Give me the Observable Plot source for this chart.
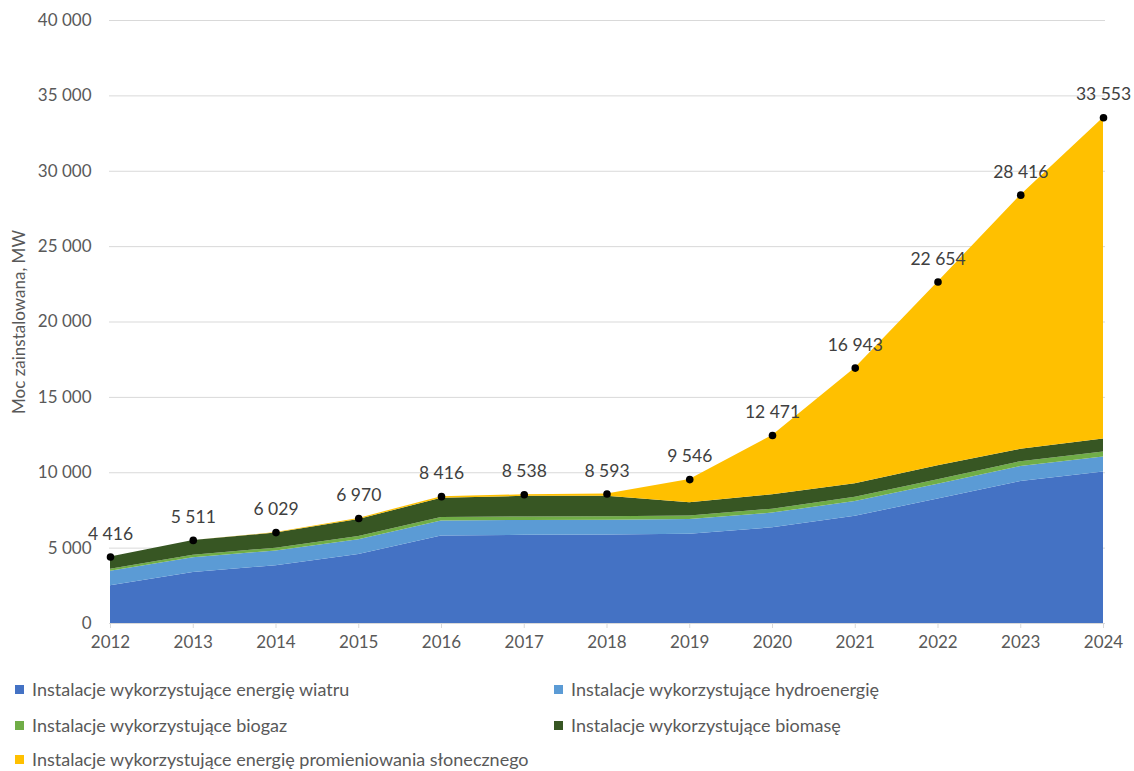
<!DOCTYPE html>
<html>
<head>
<meta charset="utf-8">
<script src="https://cdn.jsdelivr.net/npm/d3@7"></script>
<script src="https://cdn.jsdelivr.net/npm/@observablehq/plot@0.6"></script>
<style>
  html, body { margin: 0; padding: 0; background: #fff; overflow: hidden; }
  #chart { width: 1134px; }
  .legend { position: relative; height: 101px; font-family: Lato, "Open Sans", sans-serif; font-size: 18px; color: #595959; }
  .item { position: absolute; display: flex; align-items: center; white-space: nowrap; line-height: 20px; }
  .sw { width: 9px; height: 9px; margin-right: 8px; display: inline-block; }
</style>
</head>
<body>
<div id="chart"></div>
<script>
const years   = [2012, 2013, 2014, 2015, 2016, 2017, 2018, 2019, 2020, 2021, 2022, 2023, 2024];
const wind    = [2497, 3390, 3834, 4582, 5807, 5849, 5864, 5917, 6347, 7116, 8256, 9420, 10050];
const hydro   = [966, 970, 977, 981, 994, 988, 981, 976, 977, 983, 988, 993, 990];
const biogas  = [131, 162, 188, 212, 233, 236, 237, 245, 258, 272, 295, 320, 340];
const biomass = [821, 987, 1008, 1122, 1281, 1362, 1365, 869, 953, 902, 926, 820, 860];
const solar   = [1, 2, 22, 73, 101, 103, 146, 1539, 3936, 7670, 12189, 16863, 21313];
const totals  = [4416, 5511, 6029, 6970, 8416, 8538, 8593, 9546, 12471, 16943, 22654, 28416, 33553];
const seriesNames = [
  "Instalacje wykorzystujące energię wiatru",
  "Instalacje wykorzystujące hydroenergię",
  "Instalacje wykorzystujące biogaz",
  "Instalacje wykorzystujące biomasę",
  "Instalacje wykorzystujące energię promieniowania słonecznego"
];
const seriesColors = ["#4472C4", "#5B9BD5", "#70AD47", "#375623", "#FFC000"];
const yTicks = [0, 5000, 10000, 15000, 20000, 25000, 30000, 35000, 40000];

const seriesValues = [wind, hydro, biogas, biomass, solar];
const rows = [];
seriesNames.forEach((name, i) => years.forEach((y, j) => rows.push({year: y, series: name, value: seriesValues[i][j]})));
const totalRows = years.map((y, j) => ({year: y, total: totals[j]}));

const loc = d3.formatLocale({decimal: ",", thousands: "\u00a0", grouping: [3], currency: ["", " zł"]});
const fmt = loc.format(",d");

const font = "Lato, 'Open Sans', sans-serif";

const plot = Plot.plot({
  width: 1134,
  height: 670,
  marginLeft: 110,
  marginRight: 31,
  marginTop: 20,
  marginBottom: 47,
  style: {fontFamily: font, fontSize: "17px", color: "#595959", background: "#fff"},
  x: {domain: [2012, 2024], label: null},
  y: {domain: [0, 40000], label: null},
  color: {domain: seriesNames, range: seriesColors},
  marks: [
    Plot.gridY(yTicks, {stroke: "#d9d9d9", strokeOpacity: 1, strokeWidth: 1, insetLeft: -1, insetRight: -2}),
    Plot.areaY(rows, Plot.stackY({order: seriesNames}, {x: "year", y: "value", fill: "series", z: "series"})),
    Plot.ruleY([0], {stroke: "#d9d9d9", strokeWidth: 1, insetLeft: -1, insetRight: -2}),
    Plot.axisX({ticks: years, tickFormat: d => String(d), stroke: "#d9d9d9", tickSize: 5, tickPadding: 7, fontSize: 17, fill: "#595959", label: null}),
    Plot.axisY({ticks: yTicks, tickFormat: fmt, tickSize: 0, tickPadding: 19, fontSize: 17, fill: "#595959",
      label: "Moc zainstalowana, MW", labelAnchor: "center", labelArrow: "none", labelOffset: 98}),
    Plot.dot(totalRows, {x: "year", y: "total", r: 3.8, fill: "#000"}),
    Plot.text(totalRows, {x: "year", y: "total", text: d => fmt(d.total), dy: -23, fill: "#404040", fontSize: 17.5})
  ]
});
document.getElementById("chart").appendChild(plot);

// legend
const legend = document.createElement("div");
legend.className = "legend";
const positions = [[15, 9], [554, 9], [15, 45], [554, 45], [15, 79]];
seriesNames.forEach((name, i) => {
  const it = document.createElement("div");
  it.className = "item";
  it.style.left = positions[i][0] + "px";
  it.style.top = positions[i][1] + "px";
  const sw = document.createElement("span");
  sw.className = "sw";
  sw.style.background = seriesColors[i];
  it.appendChild(sw);
  it.appendChild(document.createTextNode(name));
  legend.appendChild(it);
});
document.getElementById("chart").appendChild(legend);
</script>
</body>
</html>
